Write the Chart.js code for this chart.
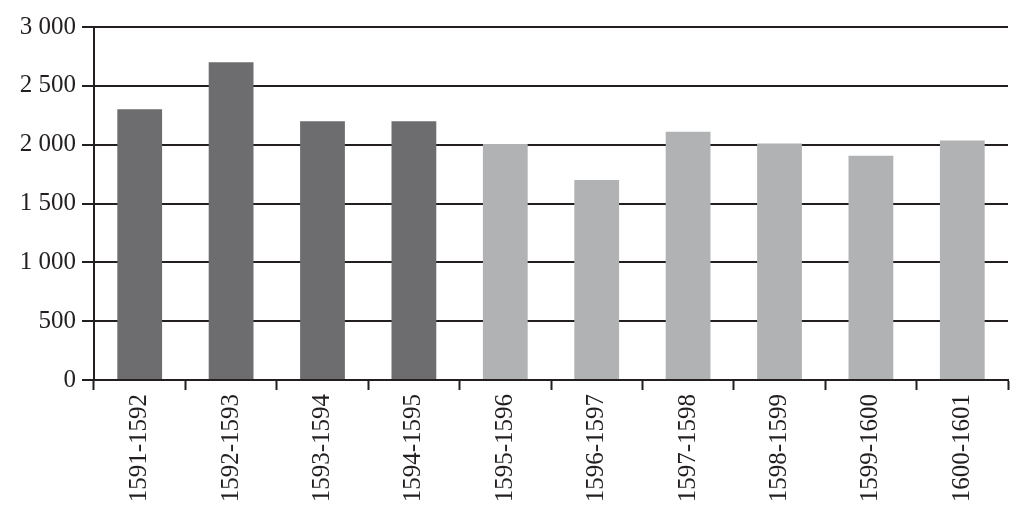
<!DOCTYPE html>
<html>
<head>
<meta charset="utf-8">
<script src="https://cdn.jsdelivr.net/npm/chart.js@4"></script>
<style>
  html, body { margin: 0; padding: 0; background: #fff; }
  #wrap { width: 1018px; height: 522px; }
</style>
</head>
<body>
<div id="wrap"><canvas id="chart" width="1018" height="522"></canvas></div>
<script>
// Periods on the x axis
const periods = ['1591-1592', '1592-1593', '1593-1594', '1594-1595', '1595-1596',
  '1596-1597', '1597-1598', '1598-1599', '1599-1600', '1600-1601'];

// Bar heights
const values = [2300, 2700, 2200, 2200, 2005, 1700, 2110, 2010, 1905, 2035];

// First four bars are dark, the rest light
const darkCount = 4;
const darkColor = '#6d6d6f';
const lightColor = '#b1b2b4';

const yMax = 3000;
const yStep = 500;

const lineColor = '#231f20';
const fontFamily = '"Liberation Serif", "DejaVu Serif", serif';

// "3000" -> "3 000"
function formatThousands(v) {
  return String(v).replace(/\B(?=(\d{3})+(?!\d))/g, ' ');
}

const barColors = values.map((v, i) => i < darkCount ? darkColor : lightColor);

new Chart(document.getElementById('chart'), {
  type: 'bar',
  data: {
    labels: periods,
    datasets: [{
      data: values,
      backgroundColor: barColors,
      borderWidth: 0,
      barPercentage: 0.49,
      categoryPercentage: 1
    }]
  },
  options: {
    responsive: false,
    animation: false,
    layout: { padding: { left: 0, right: 10, top: 27, bottom: 0 } },
    plugins: {
      legend: { display: false },
      tooltip: { enabled: false }
    },
    scales: {
      x: {
        offset: true,
        grid: {
          offset: true,
          drawOnChartArea: false,
          drawTicks: true,
          tickLength: 10,
          tickWidth: 2,
          tickColor: lineColor
        },
        border: { display: true, color: lineColor, width: 2 },
        ticks: {
          minRotation: 90,
          maxRotation: 90,
          padding: 4,
          color: '#231f20',
          font: { family: fontFamily, size: 25 }
        },
        afterFit: scale => { scale.height = 142; }
      },
      y: {
        min: 0,
        max: yMax,
        grid: {
          color: lineColor,
          lineWidth: 2,
          tickLength: 12,
          tickColor: lineColor
        },
        border: { display: true, color: lineColor, width: 2 },
        ticks: {
          stepSize: yStep,
          padding: 6,
          color: '#231f20',
          font: { family: fontFamily, size: 25 },
          callback: v => formatThousands(v)
        },
        afterFit: scale => { scale.width = 94; }
      }
    }
  }
});
</script>
</body>
</html>
